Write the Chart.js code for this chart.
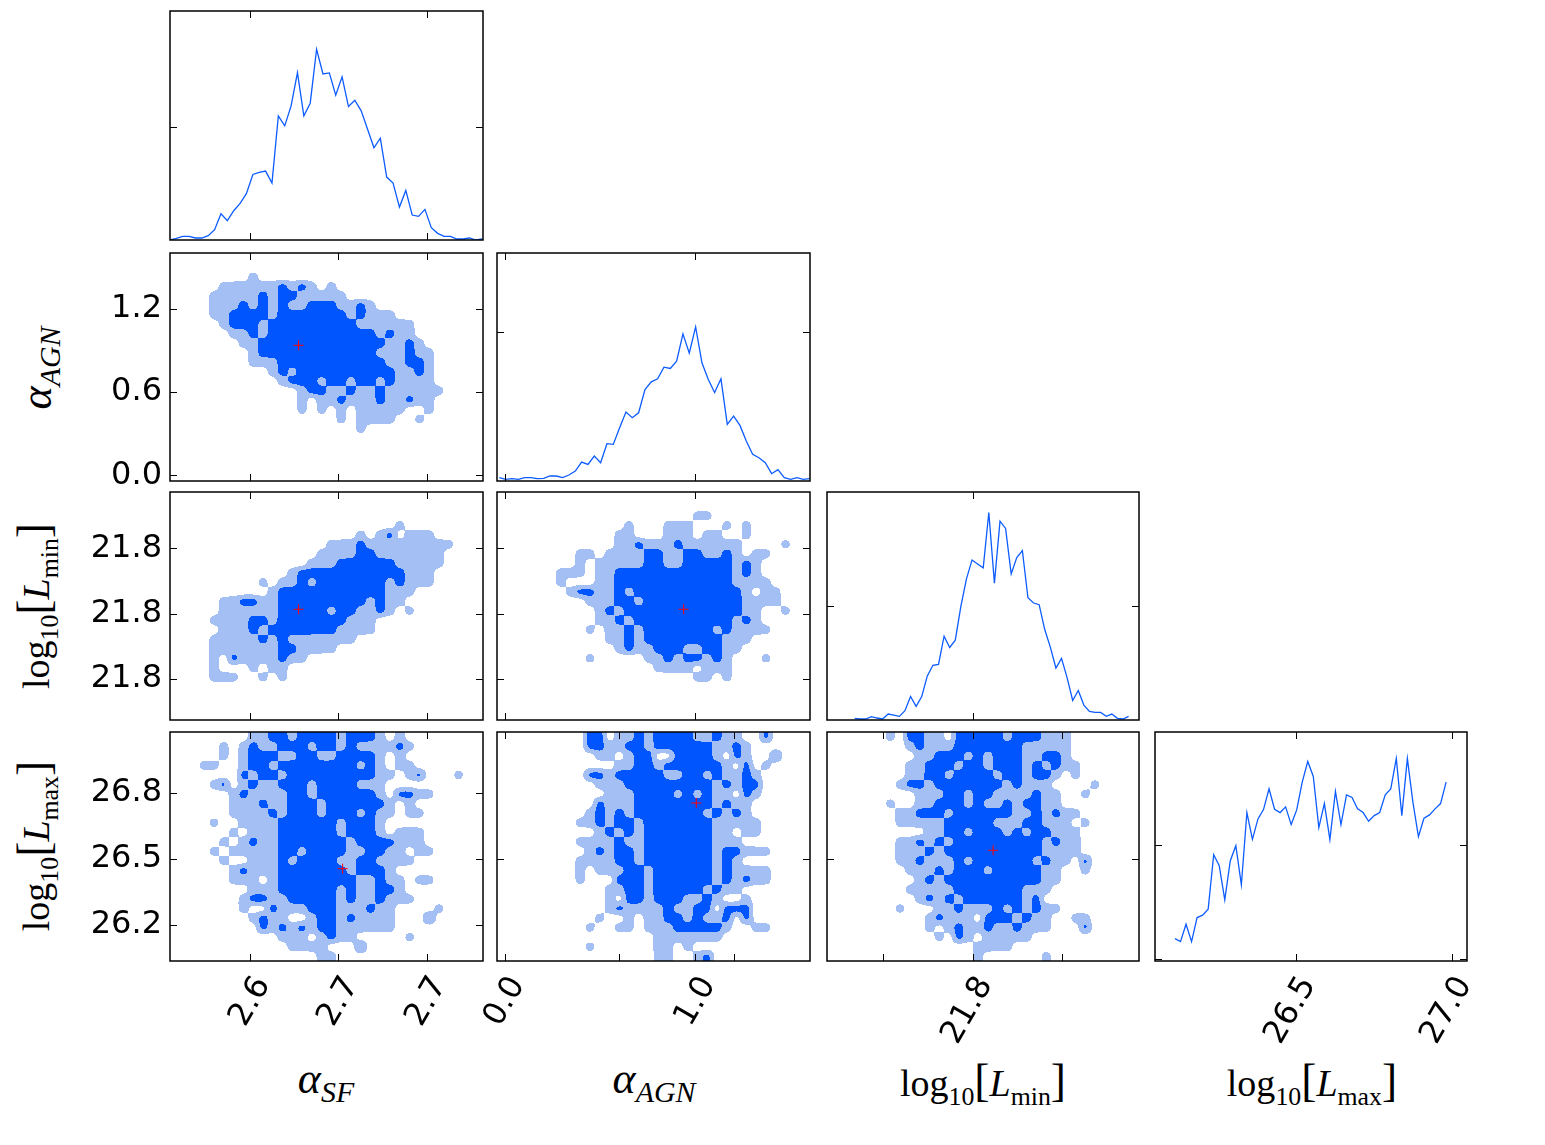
<!DOCTYPE html>
<html>
<head>
<meta charset="utf-8">
<title>Corner plot</title>
<script src="https://cdn.jsdelivr.net/npm/chart.js@4.4.1/dist/chart.umd.min.js"></script>
<style>
  html, body { margin: 0; padding: 0; background: #fff; }
  #wrap { position: relative; width: 1545px; height: 1145px; overflow: hidden; }
  #wrap canvas { position: absolute; }
  .lbl { position: absolute; font-family: 'Liberation Serif', 'DejaVu Serif', serif; font-size: 38px; color: #000;
         white-space: nowrap; line-height: 1; transform: translate(-50%, -50%); }
  .lbl.rot { transform: translate(-50%, -50%) rotate(-90deg); }
  .lbl.ga { font-size: 44px; }
  .lbl sub { font-size: 0.68em; vertical-align: -0.32em; }
  .lbl .br { font-size: 1.2em; }
</style>
</head>
<body>
<div id="wrap">
  <div class="lbl ga" style="left:326px;top:1082px"><i>α</i><sub><i>SF</i></sub></div>
  <div class="lbl ga" style="left:654px;top:1082px"><i>α</i><sub><i>AGN</i></sub></div>
  <div class="lbl" style="left:983px;top:1084px">log<sub>10</sub><span class="br">[</span><i>L</i><sub>min</sub><span class="br">]</span></div>
  <div class="lbl" style="left:1312px;top:1084px">log<sub>10</sub><span class="br">[</span><i>L</i><sub>max</sub><span class="br">]</span></div>
  <div class="lbl ga rot" style="left:40px;top:368px"><i>α</i><sub><i>AGN</i></sub></div>
  <div class="lbl rot" style="left:37px;top:606px">log<sub>10</sub><span class="br">[</span><i>L</i><sub>min</sub><span class="br">]</span></div>
  <div class="lbl rot" style="left:37px;top:846px">log<sub>10</sub><span class="br">[</span><i>L</i><sub>max</sub><span class="br">]</span></div>
</div>
<script>
// axis ranges
const sfRange = [2.5545, 2.7320];
const agnRange = [-0.040, 1.600];
const lminRange = [21.751, 21.856];
const lmaxRange = [26.036, 27.077];
const lmaxHistRange = [26.049, 27.049];

// ticks and tick labels
const sfTicks = [2.60, 2.65, 2.70];
const sfTickLabels = ['2.6', '2.7', '2.7'];
const sfHistTicks = [2.60, 2.70];
const agnTicks = [0.0, 0.6, 1.2];
const agnTickLabels = ['0.0', '0.6', '1.2'];
const agnXTicks = [0.0, 0.6, 1.0, 1.2];
const agnXTickLabels = ['0.0', '', '1.0', ''];
const agnHistTicks = [0.0, 1.0];
const lminTicks = [21.77, 21.80, 21.83];
const lminTickLabels = ['21.8', '21.8', '21.8'];
const lminXTickLabels = ['', '21.8', ''];
const lminHistTicks = [21.80];
const lmaxTicks = [26.2, 26.5, 26.8];
const lmaxTickLabels = ['26.2', '26.5', '26.8'];
const lmaxMidTicks = [26.5];
const lmaxXTicks = [26.5, 27.0];
const lmaxXTickLabels = ['26.5', '27.0'];

// 1D histograms (counts, 50 bins), bin span and y scale
const histSF = [0,5,11,11,6,6,13,31,79,58,88,110,140,197,203,207,171,373,343,403,503,373,411,573,499,502,435,490,401,420,388,333,277,306,189,171,99,149,75,71,92,37,20,11,11,3,3,6,0,3];
const histSFSpan = [2.5545, 2.7316];
const histSFY = [0, 688];
const histSFYTicks = [338];

const histAGN = [5,0,2,0,5,5,2,3,10,10,5,13,25,52,45,70,50,107,105,155,202,185,200,270,293,302,337,333,355,437,379,458,350,300,261,302,165,190,162,115,75,65,50,17,29,5,0,5,0,2];
const histAGNSpan = [-0.028, 1.598];
const histAGNY = [-5, 680];
const histAGNYTicks = [442];

const histLmin = [5,3,3,10,6,3,18,15,11,28,71,41,71,133,165,168,253,219,241,343,426,483,471,459,626,413,600,578,441,490,511,369,353,348,273,220,157,186,128,59,89,45,26,23,23,11,18,5,3,11];
const histLminSpan = [21.7603, 21.8525];
const histLminY = [0, 688];
const histLminYTicks = [343];

const histLmax = [67,58,110,58,130,137,155,318,285,183,300,345,228,444,364,425,453,515,454,444,461,408,452,535,597,552,399,471,363,507,408,497,489,455,444,418,435,444,497,515,606,435,606,475,372,427,437,455,471,535];
const histLmaxSpan = [26.113, 26.982];
const histLmaxY = [0, 685];
const histLmaxYTicks = [7, 347];

// 2D density levels on a 32x24 grid, top row first ('.' none, '1' outer, '2' inner)
const gridSfAgn = [
  "................................",
  "................................",
  "........1.......................",
  ".....1111112121.1...............",
  "....11111212211111..............",
  "....11121212112221121...........",
  "....1122221222222212111.........",
  ".....12221222222222111111.......",
  "......1121222222222221211.......",
  ".......1122222222222221121......",
  "........1222222222222111211.....",
  "........1112222222222211221.....",
  "..........12122222222221121.....",
  "...........1222122122121111.....",
  ".............122112112111111....",
  ".............1.112111211211.....",
  ".............1.1.1.11111..1.....",
  ".................1.1111..1......",
  "...................1............",
  "................................",
  "................................",
  "................................",
  "................................",
  "................................"
];
const gridSfLmin = [
  "................................",
  "................................",
  "................................",
  ".......................1........",
  "...................1.12.111.....",
  "................1112111111111...",
  "...............1111221111111....",
  "..............11122222211111....",
  "............122222222222111.....",
  ".........1.1121222222212111.....",
  "..........122222222222111.......",
  ".....1122112222222221211........",
  ".....111111222221221121.1.......",
  "....11112212222222111...........",
  ".....1112122222221111...........",
  "....111112121111111.............",
  "....1111111221111...............",
  "....1.21111211..................",
  "....1...1.11....................",
  "....111..1.1....................",
  "................................",
  "................................",
  "................................",
  "................................"
];
const gridAgnLmin = [
  "................................",
  "................................",
  "....................11..........",
  ".............1...111...1.1......",
  "............11...111.11..1......",
  "............1121112111111....1..",
  "........11.11112211221121.11....",
  "........1.11111221122222121.....",
  "......111.11222222222222121.....",
  "......1...112222222222221111....",
  ".......1221121222222222221.11...",
  ".........11122122222222221111...",
  "..........12122222222222211..1..",
  "..........11212222222222121.....",
  ".........1.11212222222121111....",
  "...........112122222222111......",
  "............1211222112211.......",
  ".........1.....112122121...1....",
  "................1111.111........",
  "....................11.1........",
  "................................",
  "................................",
  "................................",
  "................................"
];
const gridSfLmax = [
  "........11221222212221.1........",
  ".....1.121122212212111121.......",
  ".....1.122211221122221.1........",
  "...11..122122222222121.11.......",
  ".......2122122222222211.12...1...",
  "....12.121122212222111..........",
  "......1211112212222221.2211.....",
  "......11121122212222221.1.......",
  "......11112122212221211.11......",
  "....1..111122222212221..........",
  "......1.11122222212221.111......",
  ".....1.1211222222212222111......",
  "....1.111112212222112211.11.....",
  ".....1..11121222211221111.......",
  "......12111222222212221.........",
  "......111.12222222211211.11.....",
  "........1112222221211221........",
  ".......122112222212112111.......",
  ".......1..2111222111211....1....",
  "........1211..122121111...2.....",
  ".........21212122111111.........",
  "...........111.1211.....1.......",
  "............1111...2............",
  "...............11..............."
];
const gridAgnLmax = [
  ".........22.1121222211211..2....",
  ".........22112212222221121......",
  "..........11.122..22221.21..2...",
  "............112212222221.2.1....",
  ".........221222221122121121.....",
  "..........11122222222212122.....",
  "...........1112222121211.21.....",
  "..........2111222222221211......",
  ".........12121222222212121......",
  "........1121221222222211111.....",
  "..........12121222222211.11.....",
  "........11112112222222111.......",
  ".........1212212222222122111....",
  "........11112212222222121.......",
  "........1.111221222222121111....",
  "........1...2221222222121211....",
  "...........11221222221211.......",
  "...........1.2212221121..1......",
  "...........12111121122.222......",
  "..........1..1.112212112.2......",
  ".........1..11.111222221..11....",
  "................1111111.........",
  ".........1......11.1............",
  "................11..12.........."
];
const gridLminLmax = [
  "......1.2211.222221222111.......",
  "........12111222222211111.......",
  ".........1122212122211221.......",
  "........112221221222121211......",
  "........1122122221221221.1......",
  ".......1221222222212111....1....",
  ".........111221221111211..1.....",
  "......1..112221211212211........",
  ".......1122212222221121211......",
  ".......111112222211122111.1.....",
  "..........1122122212122111......",
  ".......1121212222222221211......",
  ".......1112122222222221111......",
  ".......112111212222221211.2.....",
  "........1112122212222211..1.....",
  ".........121222222222211........",
  "........111112222222111.........",
  ".........1212122222212..........",
  ".......1...1121112121211........",
  "..........12111.2221211..11.....",
  "..........1.12112112111...2.....",
  "...........1.21.11111...........",
  "...............1111.............",
  "...............1......1........."
];

// red markers [x, y]
const sfAgnMark = [2.6274, 0.936];
const sfLminMark = [2.6274, 21.8020];
const agnLminMark = [0.938, 21.8020];
const sfLmaxMark = [2.6524, 26.4556];
const agnLmaxMark = [1.0043, 26.7543];
const lminLmaxMark = [21.8069, 26.5392];

const BLUE = '#0d5cff';
const DARK_RGB = [0, 85, 255];
const LIGHT_RGB = [163, 191, 244];

// panel boxes on the page
const colX = [170, 497, 827, 1155];
const colW = [313, 313, 312, 312];
const rowY = [11, 253, 492, 732];
const rowH = [229, 228, 228, 229];

// filled density levels: grid levels are gaussian-smoothed per pixel and cut at two levels
const SIGMA = 0.45;
const cells = {
  id: 'cells',
  beforeDatasetsDraw(chart, args, opts) {
    const grid = opts.grid;
    if (!grid) return;
    const { ctx, chartArea: a, scales: { x, y } } = chart;
    const rows = grid.map(s => s.padEnd(32, '.').slice(0, 32));
    const nr = rows.length, nc = 32;
    const lv = (r, c) => {
      const ch = rows[Math.min(nr - 1, Math.max(0, r))][Math.min(nc - 1, Math.max(0, c))];
      return ch === '2' ? 2 : ch === '1' ? 1 : 0;
    };
    const k2 = 1 / (2 * SIGMA * SIGMA);
    const left = Math.round(a.left), top = Math.round(a.top);
    const w = Math.round(a.right) - left, h = Math.round(a.bottom) - top;
    const off = document.createElement('canvas');
    off.width = w;
    off.height = h;
    const octx = off.getContext('2d');
    const img = octx.createImageData(w, h);
    for (let py = 0; py < h; py++) {
      const vy = y.getValueForPixel(top + py + 0.5);
      const gr = (y.max - vy) / (y.max - y.min) * nr - 0.5;
      const rb = Math.round(gr);
      for (let px = 0; px < w; px++) {
        const vx = x.getValueForPixel(left + px + 0.5);
        const gc = (vx - x.min) / (x.max - x.min) * nc - 0.5;
        const cb = Math.round(gc);
        let sw = 0, sv = 0;
        for (let r = rb - 2; r <= rb + 2; r++) {
          const wr = Math.exp(-(gr - r) * (gr - r) * k2);
          for (let c = cb - 2; c <= cb + 2; c++) {
            const wgt = wr * Math.exp(-(gc - c) * (gc - c) * k2);
            sw += wgt;
            sv += wgt * lv(r, c);
          }
        }
        const v = sv / sw;
        if (v < 0.5) continue;
        const rgb = v >= 1.5 ? DARK_RGB : LIGHT_RGB;
        const k = (py * w + px) * 4;
        img.data[k] = rgb[0];
        img.data[k + 1] = rgb[1];
        img.data[k + 2] = rgb[2];
        img.data[k + 3] = 255;
      }
    }
    octx.putImageData(img, 0, 0);
    ctx.drawImage(off, left, top);
  }
};

// box and inward ticks on all four sides
const frame = {
  id: 'frame',
  afterDraw(chart) {
    const { ctx, chartArea: a, scales: { x, y } } = chart;
    ctx.save();
    ctx.strokeStyle = '#000';
    ctx.lineWidth = 1;
    ctx.beginPath();
    x.ticks.forEach(t => {
      const px = Math.round(x.getPixelForValue(t.value)) + 0.5;
      ctx.moveTo(px, a.bottom); ctx.lineTo(px, a.bottom - 7);
      ctx.moveTo(px, a.top); ctx.lineTo(px, a.top + 7);
    });
    y.ticks.forEach(t => {
      const py = Math.round(y.getPixelForValue(t.value)) + 0.5;
      ctx.moveTo(a.left, py); ctx.lineTo(a.left + 7, py);
      ctx.moveTo(a.right, py); ctx.lineTo(a.right - 7, py);
    });
    ctx.stroke();
    ctx.lineWidth = 1.5;
    ctx.strokeRect(a.left, a.top, a.width, a.height);
    ctx.restore();
  }
};

function axis(range, ticks, labels, size, isX) {
  return {
    type: 'linear',
    min: range[0],
    max: range[1],
    bounds: 'data',
    grid: { display: false, drawTicks: false },
    border: { display: false },
    afterBuildTicks: ax => { ax.ticks = ticks.map(v => ({ value: v })); },
    afterFit: ax => {
      if (isX) ax.height = size; else ax.width = size;
      // keep the plot box fixed, labels may hang over the edges
      ax.paddingLeft = ax.paddingRight = ax.paddingTop = ax.paddingBottom = 0;
    },
    ticks: {
      display: !!labels,
      autoSkip: false,
      color: '#000',
      font: { family: 'DejaVu Sans', size: 32 },
      padding: isX ? 9 : 8,
      minRotation: isX ? 60 : 0,
      maxRotation: isX ? 60 : 0,
      labelOffset: isX ? 13 : 0,
      callback: (v, i) => labels ? labels[i] : ''
    }
  };
}

function makePanel(p) {
  const ml = p.col === 0 && p.row > 0 ? 170 : 60;
  const mb = p.row === 3 ? 130 : 10;
  const mt = 10, mr = 40;
  const w = colW[p.col] + ml + mr, h = rowH[p.row] + mt + mb;
  const cv = document.createElement('canvas');
  cv.width = w;
  cv.height = h;
  cv.style.left = (colX[p.col] - ml) + 'px';
  cv.style.top = (rowY[p.row] - mt) + 'px';
  document.getElementById('wrap').appendChild(cv);

  const datasets = [];
  if (p.hist) {
    const n = p.hist.length;
    datasets.push({
      data: p.hist.map((v, i) => ({ x: p.span[0] + i * (p.span[1] - p.span[0]) / (n - 1), y: v })),
      showLine: true,
      borderColor: BLUE,
      borderWidth: 1.3,
      pointRadius: 0,
      tension: 0
    });
  }
  if (p.mark) {
    datasets.push({
      data: [{ x: p.mark[0], y: p.mark[1] }],
      pointStyle: 'cross',
      pointRadius: 5,
      borderColor: '#ff0000',
      borderWidth: 1
    });
  }

  new Chart(cv, {
    type: 'scatter',
    data: { datasets },
    options: {
      responsive: false,
      animation: false,
      events: [],
      layout: { padding: { left: 0, right: mr, top: mt, bottom: 0 }, autoPadding: false },
      plugins: { legend: { display: false }, tooltip: { enabled: false }, cells: { grid: p.grid } },
      scales: {
        x: axis(p.xr, p.xt, p.xl, mb, true),
        y: axis(p.yr, p.yt, p.yl, ml, false)
      }
    },
    plugins: [cells, frame]
  });
}

const panels = [
  { row: 0, col: 0, hist: histSF, span: histSFSpan, xr: sfRange, yr: histSFY, xt: sfHistTicks, yt: histSFYTicks },
  { row: 1, col: 0, grid: gridSfAgn, mark: sfAgnMark, xr: sfRange, yr: agnRange, xt: sfTicks, yt: agnTicks, yl: agnTickLabels },
  { row: 1, col: 1, hist: histAGN, span: histAGNSpan, xr: agnRange, yr: histAGNY, xt: agnHistTicks, yt: histAGNYTicks },
  { row: 2, col: 0, grid: gridSfLmin, mark: sfLminMark, xr: sfRange, yr: lminRange, xt: sfTicks, yt: lminTicks, yl: lminTickLabels },
  { row: 2, col: 1, grid: gridAgnLmin, mark: agnLminMark, xr: agnRange, yr: lminRange, xt: agnHistTicks, yt: lminTicks },
  { row: 2, col: 2, hist: histLmin, span: histLminSpan, xr: lminRange, yr: histLminY, xt: lminHistTicks, yt: histLminYTicks },
  { row: 3, col: 0, grid: gridSfLmax, mark: sfLmaxMark, xr: sfRange, yr: lmaxRange, xt: sfTicks, xl: sfTickLabels, yt: lmaxTicks, yl: lmaxTickLabels },
  { row: 3, col: 1, grid: gridAgnLmax, mark: agnLmaxMark, xr: agnRange, yr: lmaxRange, xt: agnXTicks, xl: agnXTickLabels, yt: lmaxMidTicks },
  { row: 3, col: 2, grid: gridLminLmax, mark: lminLmaxMark, xr: lminRange, yr: lmaxRange, xt: lminTicks, xl: lminXTickLabels, yt: lmaxMidTicks },
  { row: 3, col: 3, hist: histLmax, span: histLmaxSpan, xr: lmaxHistRange, yr: histLmaxY, xt: lmaxXTicks, xl: lmaxXTickLabels, yt: histLmaxYTicks }
];

panels.forEach(makePanel);
</script>
</body>
</html>
